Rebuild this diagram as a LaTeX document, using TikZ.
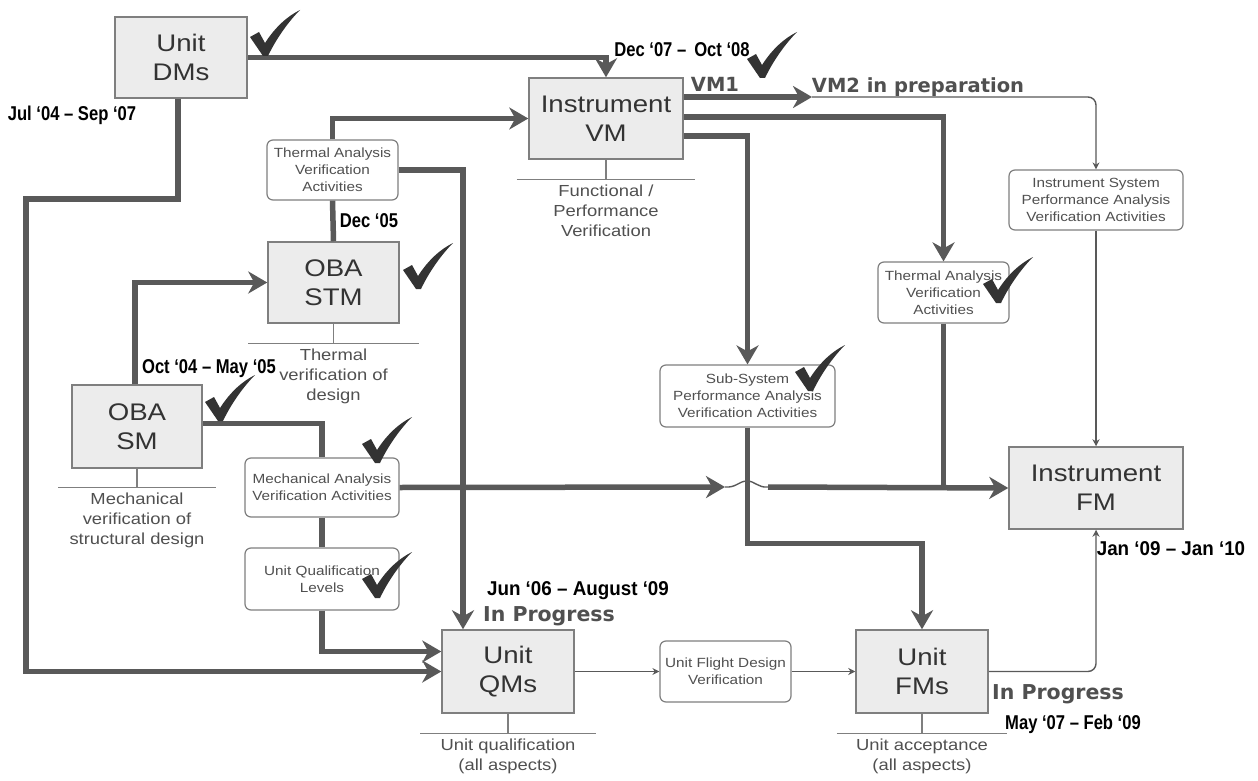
\documentclass[tikz,border=0pt]{standalone}
\usepackage{fontspec}
\setmainfont[FakeStretch=1.15]{Liberation Sans}
\newfontfamily\datefont[FakeStretch=0.83]{Liberation Sans}
\newfontfamily\widedatefont[FakeStretch=0.94]{Liberation Sans}
\newfontfamily\statusfont{DejaVu Sans}
\usetikzlibrary{arrows.meta,positioning}
\definecolor{linegray}{HTML}{595959}
\definecolor{boxgray}{HTML}{ECECEC}
\definecolor{rimgray}{HTML}{7F7F7F}
\definecolor{inkgray}{HTML}{333333}
\definecolor{labelgray}{HTML}{505050}
\tikzset{
    model/.style ={
        shape=rectangle,
        draw=rimgray,
        fill=boxgray,
        line width=1.5pt,
        text=inkgray,
        align=center,
        font=\fontsize{24}{29}\selectfont
    },
    activity/.style ={
        shape=rectangle,
        rounded corners=6pt,
        draw=rimgray,
        fill=white,
        line width=1.2pt,
        text=labelgray,
        align=center,
        font=\fontsize{13.3}{17}\selectfont
    },
    caption/.style ={
        align=center,
        text=labelgray,
        inner xsep=0pt,
        inner ysep=5pt,
        font=\fontsize{16}{20}\selectfont
    },
    date/.style ={
        text=black,
        inner sep=0pt,
        font=\datefont\bfseries\fontsize{20}{22}\selectfont
    },
    widedate/.style ={
        text=black,
        inner sep=0pt,
        font=\widedatefont\bfseries\fontsize{20}{22}\selectfont
    },
    status/.style ={
        text=labelgray,
        inner sep=0pt,
        font=\statusfont\bfseries\fontsize{19.5}{22}\selectfont
    },
    flow/.style ={
        draw=linegray,
        line width=5.5pt,
        -{Stealth[length=19pt,width=22pt,inset=6pt]}
    },
    link/.style ={draw=linegray, line width=5.5pt},
    signal/.style ={
        draw=linegray,
        line width=1.4pt,
        -{Stealth[length=7pt,width=7pt]}
    },
    bar/.style ={draw=rimgray, line width=1.2pt},
    tickmark/.pic ={
        \fill[inkgray] (0,27) -- (9,22) -- (15,33)
            .. controls (26,16) and (38,6) .. (50,0)
            .. controls (40,10) and (27,27) .. (18,46) -- (13,46) -- cycle;
    }
}

\begin{document}
\begin{tikzpicture}[x=1pt,y=-1pt]
        \fill[white] (0,0) rectangle (1258,781);
        \useasboundingbox (0,0) rectangle (1258,781);

        % models
        \node[model, minimum width=132pt, minimum height=81pt] (dms) at (181,57.5) {Unit\\DMs};
        \node[model, minimum width=154pt, minimum height=81pt] (vm) at (606,118.5) {Instrument\\VM};
        \node[model, minimum width=131pt, minimum height=81pt] (stm) at (333.5,282.5) {OBA\\STM};
        \node[model, minimum width=130pt, minimum height=83pt] (sm) at (137,426.5) {OBA\\SM};
        \node[model, minimum width=132pt, minimum height=83pt] (qms) at (508,671.5) {Unit\\QMs};
        \node[model, minimum width=132pt, minimum height=83pt] (fms) at (922,671.5) {Unit\\FMs};
        \node[model, minimum width=174pt, minimum height=82pt] (fm) at (1096,488) {Instrument\\FM};

        % activities
        \node[activity, minimum width=131pt, minimum height=60pt] (thermL) at (332.5,170) {Thermal Analysis\\Verification\\Activities};
        \node[activity, minimum width=131pt, minimum height=61pt] (thermR) at (943.5,292.5) {Thermal Analysis\\Verification\\Activities};
        \node[activity, minimum width=174pt, minimum height=60pt] (issys) at (1096,200) {Instrument System\\Performance Analysis\\Verification Activities};
        \node[activity, minimum width=175pt, minimum height=62pt] (subsys) at (747.5,396) {Sub-System\\Performance Analysis\\Verification Activities};
        \node[activity, minimum width=154pt, minimum height=59pt] (mech) at (322,487.5) {Mechanical Analysis\\Verification Activities};
        \node[activity, minimum width=154pt, minimum height=62pt] (uql) at (322,579) {Unit Qualification\\Levels};
        \node[activity, minimum width=131pt, minimum height=61pt] (flight) at (725.5,671.5) {Unit Flight Design\\Verification};

        % captions
        \node[caption, minimum width=178pt, below=20pt of vm] (vmcap) {Functional /\\Performance\\Verification};
        \node[caption, minimum width=170pt, below=20pt of stm] (stmcap) {Thermal\\verification of\\design};
        \node[caption, minimum width=157pt, below=19pt of sm] (smcap) {Mechanical\\verification of\\structural design};
        \node[caption, minimum width=175pt, below=20pt of qms] (qmscap) {Unit qualification\\(all aspects)};
        \node[caption, minimum width=170pt, below=20pt of fms] (fmscap) {Unit acceptance\\(all aspects)};
        \draw[bar] (vm.south) -- (vmcap.north) (vmcap.north west) -- (vmcap.north east);
        \draw[bar] (stm.south) -- (stmcap.north) (stmcap.north west) -- (stmcap.north east);
        \draw[bar] (sm.south) -- (smcap.north) (smcap.north west) -- (smcap.north east);
        \draw[bar] (qms.south) -- (qmscap.north) (qmscap.north west) -- (qmscap.north east);
        \draw[bar] (fms.south) -- (fmscap.north) (fmscap.north west) -- (fmscap.north east);

        % dates and status
        \node[date] (dmsdate) at (72,115) {Jul ‘04 – Sep ‘07};
        \node[date] (vmdate) at (682,50) {Dec ‘07 – \,Oct ‘08};
        \node[date] (stmdate) at (369,221) {Dec ‘05};
        \node[date] (smdate) at (209,369) {Oct ‘04 – May ‘05};
        \node[widedate] (qmsdate) at (578,591) {Jun ‘06 – August ‘09};
        \node[widedate] (fmdate) at (1171,549) {Jan ‘09 – Jan ‘10};
        \node[date] (fmsdate) at (1073,724) {May ‘07 – Feb ‘09};
        \node[status, font=\statusfont\bfseries\fontsize{20.5}{22}\selectfont] (qmsstate) at (549,616) {In Progress};
        \node[status, font=\statusfont\bfseries\fontsize{20.5}{22}\selectfont] (fmsstate) at (1058,694) {In Progress};
        \node[status] (vmone) at (715,84) {VM1};
        \node[status] (vmtwo) at (918,87) {VM2 in preparation};

        \coordinate (vmtwoend) at (812,97);
        \coordinate (jumpL) at (725,487);
        \coordinate (jumpR) at (768,487);

        % thick flows
        \draw[flow] (dms.east) -| (vm.north);
        \draw[flow] (thermL.north) |- (vm.west);
        \draw[flow] (thermL.east) -| ([xshift=-45pt]qms.north);
        \draw[link] (thermL.south) -- (stm.north);
        \draw[flow] ([xshift=-2pt]sm.north) |- (stm.west);
        \draw[link] ([yshift=3pt]sm.east) -| (mech.north);
        \draw[link] (mech.south) -- (uql.north);
        \draw[flow] (uql.south) |- ([yshift=20pt]qms.west);
        \draw[flow] ([xshift=-3pt]dms.south) |- (26,199) |- (qms.west);
        \draw[flow] ([yshift=21.5pt]vm.east) -- (vmtwoend);
        \draw[flow] ([yshift=1.5pt]vm.east) -| (thermR.north);
        \draw[flow] ([yshift=-17.5pt]vm.east) -| (subsys.north);
        \draw[flow] (subsys.south) -- ++(0,116) -| (fms.north);
        \draw[link] (thermR.south) -- (thermR.south |- fm.west);
        \draw[flow] (mech.east) -- (jumpL);
        \draw[draw=linegray, line width=1.4pt] (jumpL) .. controls (736,488) and (739,481) .. (747,481)
            .. controls (755,481) and (758,488) .. (jumpR);
        \draw[flow] (jumpR) -- (fm.west);

        % thin flows
        \draw[signal, rounded corners=8pt] (vmtwoend) -| (issys.north);
        \draw[signal] (issys.south) -- (fm.north);
        \draw[signal] (qms.east) -- (flight.west);
        \draw[signal] (flight.east) -- (fms.west);
        \draw[signal, rounded corners=8pt] (fms.east) -| (fm.south);

        % ticks
        \foreach \p in {(250,10),(747,32),(403,243),(205,375),(362,417),(983,257),(795,345),(362,552)}
            \pic at \p {tickmark};
    \end{tikzpicture}
\end{document}
